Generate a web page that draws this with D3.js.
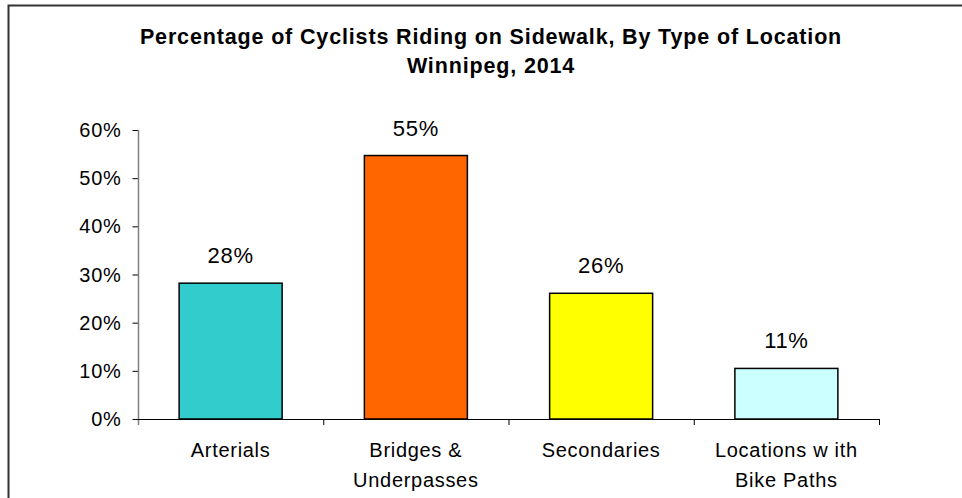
<!DOCTYPE html>
<html>
<head>
<meta charset="utf-8">
<script src="https://cdn.jsdelivr.net/npm/d3@7"></script>
<style>
  body { margin: 0; background: #fff; }
  svg text { font-family: "Liberation Sans", Arial, sans-serif; fill: #000; }
</style>
</head>
<body>
<div id="chart"></div>
<script>
// data
const categories = ["Arterials", "Bridges & Underpasses", "Secondaries", "Locations with Bike Paths"]
const categoryLines = [["Arterials"], ["Bridges &", "Underpasses"], ["Secondaries"], ["Locations w ith", "Bike Paths"]]
const values = [28.2, 54.7, 26.1, 10.5]
const barColors = ["#33cccc", "#ff6600", "#ffff00", "#ccffff"]
const yTicks = [0, 10, 20, 30, 40, 50, 60]
const titleLines = ["Percentage of Cyclists Riding on Sidewalk, By Type of Location", "Winnipeg, 2014"]

const width = 962, height = 498
const labelSize = "20px", labelSpacing = "0.7px"

const svg = d3.select("#chart")
  .append("svg")
  .attr("width", width)
  .attr("height", height)

// outer frame (runs off the right / bottom edge)
svg.append("rect")
  .attr("x", 8.5)
  .attr("y", 5.5)
  .attr("width", 1000)
  .attr("height", 600)
  .attr("fill", "none")
  .attr("stroke", "#333")
  .attr("stroke-width", 2)

// title
svg.append("g").selectAll("text")
  .data(titleLines)
  .enter()
  .append("text")
    .attr("x", 491)
    .attr("y", (d, i) => 44 + i * 28.5)
    .attr("text-anchor", "middle")
    .style("font-size", "21.5px")
    .style("font-weight", "bold")
    .style("letter-spacing", "0.85px")
    .text(d => d)

// scales
var x = d3.scaleBand()
  .range([138, 879])
  .domain(categories)
  .paddingInner(0.444)
  .paddingOuter(0.222)

var y = d3.scaleLinear()
  .range([419, 130])
  .domain([0, 60])

// y axis
const yAxis = svg.append("g")
  .attr("transform", "translate(138.5,0)")
  .call(d3.axisLeft(y).tickValues(yTicks).tickFormat(d => d + "%").tickSize(6).tickPadding(11))
yAxis.select(".domain").remove()
yAxis.selectAll(".tick line").attr("stroke", "#000")
yAxis.selectAll(".tick text")
  .style("font-size", labelSize)
  .style("letter-spacing", labelSpacing)
  .attr("dy", "0.33em")
  .style("font-family", "Liberation Sans, Arial, sans-serif")

svg.append("line")
  .attr("x1", 138.5).attr("x2", 138.5)
  .attr("y1", y(60)).attr("y2", 425)
  .attr("stroke", "#808080")
  .attr("stroke-width", 1.5)

// x axis line + ticks at category boundaries
svg.append("line")
  .attr("x1", 133).attr("x2", 879)
  .attr("y1", y(0) + 0.5).attr("y2", y(0) + 0.5)
  .attr("stroke", "#000")

const step = x.step()
svg.append("g").selectAll("line")
  .data(categories)
  .enter()
  .append("line")
    .attr("x1", (d, i) => x.range()[0] + step * (i + 1) + 0.5)
    .attr("x2", (d, i) => x.range()[0] + step * (i + 1) + 0.5)
    .attr("y1", y(0))
    .attr("y2", y(0) + 6)
    .attr("stroke", "#000")

// category labels
const catG = svg.append("g").selectAll("text")
  .data(categories)
  .enter()
  .append("text")
    .attr("x", d => x(d) + x.bandwidth() / 2)
    .attr("y", 457)
    .attr("text-anchor", "middle")
    .style("font-size", labelSize)
    .style("letter-spacing", labelSpacing)
catG.selectAll("tspan")
  .data((d, i) => categoryLines[i])
  .enter()
  .append("tspan")
    .attr("x", function() { return d3.select(this.parentNode).attr("x") })
    .attr("dy", (d, i) => i === 0 ? 0 : 29.5)
    .text(d => d)

// bars
svg.append("g").selectAll("rect")
  .data(values)
  .enter()
  .append("rect")
    .attr("x", (d, i) => x(categories[i]))
    .attr("y", d => y(d))
    .attr("width", x.bandwidth())
    .attr("height", d => y(0) - y(d))
    .style("fill", (d, i) => barColors[i])
    .style("stroke", "#000")
    .style("stroke-width", 1.5)

// value labels
svg.append("g").selectAll("text")
  .data(values)
  .enter()
  .append("text")
    .attr("x", (d, i) => x(categories[i]) + x.bandwidth() / 2)
    .attr("y", d => y(d) - 20)
    .attr("text-anchor", "middle")
    .style("font-size", "22px")
    .style("letter-spacing", labelSpacing)
    .text(d => Math.round(d) + "%")
</script>
</body>
</html>
